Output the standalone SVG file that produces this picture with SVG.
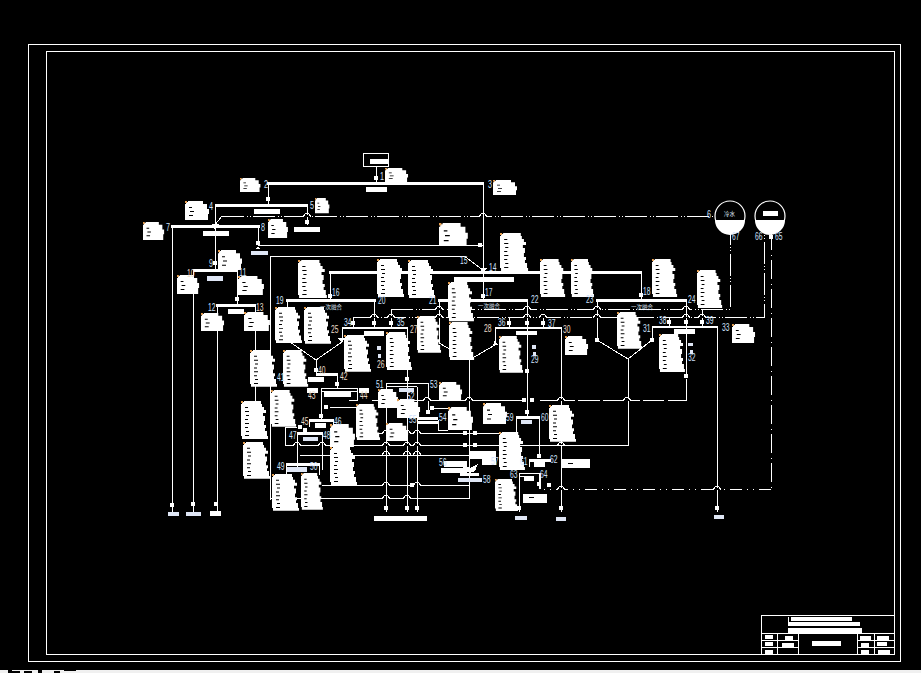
<svg xmlns="http://www.w3.org/2000/svg" width="921" height="673" viewBox="0 0 921 673">
<style>
text{font-family:"Liberation Sans","Noto Sans CJK SC",sans-serif;font-size:10px;fill:#cfe0fb}
text.o{fill:#eadcc8}
text.c{font-family:"Noto Sans CJK SC",sans-serif;font-size:5.5px;fill:#dfe6f5}
#connectors,#frame,#title-block{shape-rendering:crispEdges}
.f{fill:none;stroke:#fff;stroke-width:1}
.l{fill:none;stroke:#fff;stroke-width:1}
.b{fill:none;stroke:#fff;stroke-width:3}
.m{fill:none;stroke:#fff;stroke-width:2.600}
.d{fill:none;stroke:#fff;stroke-width:1;stroke-dasharray:22 3 1 2 1 2}
.e{fill:none;stroke:#fff;stroke-width:1;stroke-dasharray:12 5 1 5 1 5}
.v{fill:none;stroke:#fff;stroke-width:1;stroke-dasharray:18 5 1 4 1 0}
.w{fill:#fff}
.s{fill:#dfe6f5}
</style>
<defs>
<rect id="k" x="-2" y="-2" width="4" height="4" fill="#fff"/>
<g id="j"><path d="M-4 0H4" stroke="#000" stroke-width="2.500"/><path d="M-4 0H-3L-2 -2Q0 -3.500 2 -2L3 0H4" fill="none" stroke="#fff" stroke-width="1.200"/></g>
<g id="t"><path fill="#fff" d="M3 0H20V3H21V6H23V9H25V12H22V15H24V20H23V24H25V27H24V30H26V35H27V38H1V35H0V3H1V1H3Z"/><path fill="#000" d="M4 6h3v1h-3zM4 10h4v1h-4zM5 14h3v1h-3zM4 18h3v1h-3zM4 22h4v1h-4zM4 26h3v1h-3zM5 30h3v1h-3zM4 34h4v1h-4z"/><rect x="0" y="0" width="2" height="2" fill="#e8a050"/></g>
<g id="h"><path fill="#fff" d="M3 0H18V3H22V8H24V13H23V19H0V3H1V1H3Z"/><path fill="#000" d="M4 6h3v1h-3zM5 10h4v1h-4zM4 14h4v1h-4z"/><rect x="0" y="0" width="2" height="2" fill="#e8a050"/></g>
</defs>
<rect width="921" height="673" fill="#000"/>
<g id="frame">
<rect x="28.500" y="44.500" width="872" height="617" class="f"/>
<rect x="46.500" y="51.500" width="848" height="603" class="f"/>
<rect x="0" y="670" width="921" height="3" fill="#f0f0f0"/>
<path d="M8 670h4v3h-4zM12 671h8v2h-8zM24 671h8v2h-8zM38 670h4v3h-4zM54 671h6v2h-6zM64 670h12v1h-12z" fill="#000"/>
</g>
<g id="title-block">
<rect x="761.500" y="615.500" width="133" height="39" class="f"/>
<path class="f" d="M761 633.500H894M761 640.500H798M761 647.500H798M857 640.500H894M857 647.500H894M777.500 633V654M798.500 633V654M857.500 633V654M874.500 633V654"/>
<path class="w" d="M791 617h61v4h-61zM788 622h72v4h-72zM788 628h74v5h-74zM812 641h29v5h-29zM765 635h8v4h-8zM765 642h8v4h-8zM765 650h8v4h-8zM785 636h8v4h-8zM782 643h12v4h-12zM860 636h11v4h-11zM861 643h8v4h-8zM861 650h8v4h-8zM877 636h12v4h-12zM877 642h10v4h-10zM878 650h12v4h-12z"/>
<rect x="788" y="617" width="1" height="5" class="w"/>
</g>
<g id="connectors">
<rect x="363.500" y="153.500" width="25" height="13" fill="none" stroke="#fff" stroke-width="1.500"/>
<path class="l" d="M376 167V183"/>
<path class="b" d="M267 183.500H484"/>
<path class="l" d="M268 183V205M307 205V225"/>
<path class="b" d="M215 205.500H308"/>
<path class="d" d="M222 216H715"/>
<path class="l" d="M214 226L222 216"/>
<path class="b" d="M171 226.500H260"/>
<path class="l" d="M172 226V512M258 226V245H483M215 205V270M193 270V512"/>
<path class="b" d="M193 270.500H238"/>
<path class="l" d="M237 270V305M217 305V512M255 305V401"/>
<path class="b" d="M216 305.500H256"/>
<path class="l" d="M270 500V256H464L483 270M270 498.500H469V360"/>
<path class="b" d="M329 272.500H642"/>
<path class="l" d="M330 272V300M641 272V300"/>
<path class="b" d="M286 300.500H376M438 300.500H528M596 300.500H687"/>
<path class="l" d="M287 300V340L316 360L342 342V328M316 360V374M374 300V328M439 300V343L469 360L495 345V328M597 300V340L628 359L652 340V327M628 359V445H285"/>
<path class="m" d="M342 328H408M495 328H562M652 327H718"/>
<path class="d" d="M391 309H730V231"/>
<path class="d" d="M353 317.500H764V231"/>
<path class="l" d="M391 309V328M353 317V327M509 318V328M543 317V328M669 317V327M702 309V327M527 300V417M686 300V375M686 379V400H668M664 400H643M640 400H603M600 400H578M575 400H540M522 400H372"/>
<path class="v" d="M771 232V489"/>
<path class="e" d="M771 489H540"/>
<path class="l" d="M540 489V473M717 327V512M561 328V512M407 328V512"/>
<use href="#j" x="307" y="216"/><use href="#j" x="483" y="216"/>
<use href="#j" x="439" y="309"/><use href="#j" x="527" y="309"/><use href="#j" x="597" y="309"/><use href="#j" x="686" y="309"/>
<use href="#j" x="374" y="317"/><use href="#j" x="391" y="317"/><use href="#j" x="439" y="317"/><use href="#j" x="527" y="317"/><use href="#j" x="543" y="317"/><use href="#j" x="597" y="317"/><use href="#j" x="686" y="317"/><use href="#j" x="702" y="317"/>
<use href="#j" x="561" y="400"/><use href="#j" x="627" y="400"/><use href="#j" x="469" y="400"/><use href="#j" x="427" y="400"/>
<use href="#j" x="561" y="445"/><use href="#j" x="561" y="489"/><use href="#j" x="717" y="489"/>
<path class="l" d="M483 183V300M374 300V317M527 300V317M686 300V317"/>
<path class="b" d="M316 374H338M309 420H334M297 433H323M286 464H320M516 417.500H540M529 460H551"/>
<path class="f" d="M321 388H357M321 391H357M386 383.500H428M386 386.500H417M519 473.500H541M519 476H534"/>
<path class="l" d="M337 374V388M321 388V420M357 388V400H349M356 407H330M309 420V427M333 420V434M297 433V470M322 433V470M286 464V475M319 464V475M285 445V427H297M300 455H470M322 485.500H470M360 433.500H500M470 445H627"/>
<path class="l" d="M386 383V512M428 383V412M417 387V512M430 408H448M438 420V430H448M516 417V435M539 417V456M529 460V467M519 473V512M539 473V489"/>
<use href="#j" x="297" y="445"/><use href="#j" x="322" y="445"/><use href="#j" x="386" y="433"/><use href="#j" x="407" y="433"/><use href="#j" x="417" y="433"/><use href="#j" x="386" y="445"/><use href="#j" x="407" y="445"/><use href="#j" x="417" y="445"/><use href="#j" x="386" y="454"/><use href="#j" x="407" y="454"/><use href="#j" x="417" y="454"/><use href="#j" x="386" y="485"/><use href="#j" x="417" y="485"/><use href="#j" x="386" y="498"/><use href="#j" x="407" y="498"/><use href="#j" x="427" y="400"/>
<path class="l" d="M386 430V440M407 430V440M417 430V440M386 450V458M407 450V458M417 450V458M386 480V502M407 480V502M417 480V490M297 440V450M322 440V450"/>
<path class="w" d="M462 464L470 468L478 464L475 471L470 473L465 471Z"/>
<path class="w" d="M212 224H219L215 230ZM480 268L487 268L483 273ZM260 249H256L258 246ZM341 342L345 338L338 338ZM493 345H498L495 340Z"/>
<use href="#k" x="376" y="178"/><use href="#k" x="268" y="199"/><use href="#k" x="307" y="222"/><use href="#k" x="215" y="263"/><use href="#k" x="258" y="243"/><use href="#k" x="480" y="245"/><use href="#k" x="237" y="299"/><use href="#k" x="330" y="296"/><use href="#k" x="483" y="296"/><use href="#k" x="641" y="295"/><use href="#k" x="374" y="323"/><use href="#k" x="353" y="323"/><use href="#k" x="391" y="323"/><use href="#k" x="509" y="323"/><use href="#k" x="527" y="323"/><use href="#k" x="543" y="323"/><use href="#k" x="669" y="322"/><use href="#k" x="686" y="322"/><use href="#k" x="702" y="322"/><use href="#k" x="771" y="237"/><use href="#k" x="316" y="370"/><use href="#k" x="337" y="384"/><use href="#k" x="321" y="416"/><use href="#k" x="326" y="407"/><use href="#k" x="287" y="340"/><use href="#k" x="597" y="340"/><use href="#k" x="652" y="340"/><use href="#k" x="172" y="505"/><use href="#k" x="193" y="504"/><use href="#k" x="216" y="504"/><use href="#k" x="386" y="508"/><use href="#k" x="407" y="508"/><use href="#k" x="417" y="508"/><use href="#k" x="519" y="508"/><use href="#k" x="561" y="508"/><use href="#k" x="717" y="508"/><use href="#k" x="539" y="484"/><use href="#k" x="524" y="400"/><use href="#k" x="532" y="400"/><use href="#k" x="465" y="433"/><use href="#k" x="475" y="433"/><use href="#k" x="465" y="445"/><use href="#k" x="475" y="445"/><use href="#k" x="412" y="485"/><use href="#k" x="432" y="408"/><use href="#k" x="428" y="412"/><use href="#k" x="527" y="412"/><use href="#k" x="407" y="379"/><use href="#k" x="539" y="456"/><use href="#k" x="549" y="485"/><use href="#k" x="527" y="371"/><use href="#k" x="686" y="376"/><use href="#k" x="305" y="430"/><use href="#k" x="300" y="427"/>
</g>
<g id="n-source"><rect x="370" y="159" width="18" height="5" class="w"/></g>
<g id="n-tank-a"><circle cx="730" cy="216" r="15" fill="#000" stroke="#fff" stroke-width="1.200"/><path class="w" d="M715 220H745A15 15 0 0 1 715 220Z"/><text class="c" x="724" y="216">冷水</text></g>
<g id="n-tank-b"><circle cx="770" cy="216" r="15" fill="#000" stroke="#fff" stroke-width="1.200"/><path class="w" d="M755 220H785A15 15 0 0 1 755 220Z"/><rect x="763" y="211" width="15" height="5" class="w"/></g>
<g id="bars">
<path class="w" d="M366 187h21v5h-21zM254 209h26v5h-26zM294 227h26v5h-26zM203 231h26v5h-26zM228 309h16v5h-16zM454 277h60v5h-60zM364 331h20v5h-20zM516 331h21v4h-21zM674 329h21v5h-21zM308 377h16v5h-16zM307 388h11v5h-11zM359 388h10v5h-10zM324 392h27v5h-27zM315 423h11v5h-11zM210 511h11v5h-11zM374 516h53v5h-53zM417 417h21v3h-21zM417 421h21v3h-21zM444 461h23v6h-23zM441 468h26v5h-26zM460 473h19v3h-19zM534 461h11v6h-11zM524 476h10v5h-10zM470 451h26v8h-26zM482 459h14v6h-14z"/>
</g>
<g id="small-labels" class="s">
<path d="M251 251h17v4h-17zM207 276h16v5h-16zM168 512h11v4h-11zM186 512h15v4h-15zM515 516h12v4h-12zM556 517h10v4h-10zM714 515h10v4h-10zM303 437h15v4h-15zM287 467h20v5h-20zM399 388h15v4h-15zM377 346h4v4h-4zM378 354h3v4h-3zM532 345h4v4h-4zM533 352h3v4h-3zM688 343h5v3h-5zM690 350h3v4h-3zM521 420h11v4h-11zM458 478h24v4h-24z"/>
</g>
<text class="c" x="320" y="309">一次融合</text>
<text class="c" x="478" y="308">一次融合</text>
<text class="c" x="631" y="309">一次融合</text>
<g id="nodes">
<g id="b1"><use href="#h" transform="translate(240 178) scale(.85 .74)"/></g>
<g id="b2"><use href="#h" transform="translate(185 201) scale(1 1)"/></g>
<g id="b3"><use href="#h" transform="translate(315 198) scale(.6 .8)"/></g>
<g id="b4"><use href="#h" transform="translate(143 222) scale(.88 .95)"/></g>
<g id="b5"><use href="#h" transform="translate(268 219) scale(.83 1)"/></g>
<g id="b6"><use href="#h" transform="translate(218 250) scale(1 1.050)"/></g>
<g id="b7"><use href="#h" transform="translate(177 275) scale(.92 1)"/></g>
<g id="b8"><use href="#h" transform="translate(238 276) scale(1.080 1)"/></g>
<g id="b9"><use href="#h" transform="translate(201 313) scale(.96 .95)"/></g>
<g id="b10"><use href="#h" transform="translate(244 312) scale(1.080 1)"/></g>
<g id="b11"><use href="#h" transform="translate(385 168) scale(.96 .74)"/></g>
<g id="b12"><use href="#h" transform="translate(493 180) scale(1 .79)"/></g>
<g id="b13"><use href="#h" transform="translate(439 223) scale(1.200 1.210)"/></g>
<g id="b14"><use href="#t" transform="translate(298 260) scale(1.070 1)"/></g>
<g id="b15"><use href="#t" transform="translate(275 307) scale(1 .95)"/></g>
<g id="b16"><use href="#t" transform="translate(304 307) scale(1 .97)"/></g>
<g id="b17"><use href="#t" transform="translate(500 233) scale(1.040 1)"/></g>
<g id="b18"><use href="#t" transform="translate(377 259) scale(1 1)"/></g>
<g id="b19"><use href="#t" transform="translate(408 260) scale(1 1)"/></g>
<g id="b20"><use href="#t" transform="translate(540 259) scale(.93 1)"/></g>
<g id="b21"><use href="#t" transform="translate(448 282) scale(.96 1.030)"/></g>
<g id="b22"><use href="#t" transform="translate(449 322) scale(.93 1)"/></g>
<g id="b23"><use href="#t" transform="translate(417 316) scale(.89 .97)"/></g>
<g id="b24"><use href="#t" transform="translate(571 259) scale(.85 1)"/></g>
<g id="b25"><use href="#t" transform="translate(652 259) scale(.93 1)"/></g>
<g id="b26"><use href="#t" transform="translate(697 270) scale(.93 1)"/></g>
<g id="b27"><use href="#t" transform="translate(617 312) scale(.93 .97)"/></g>
<g id="b28"><use href="#t" transform="translate(659 334) scale(.96 1)"/></g>
<g id="b29"><use href="#h" transform="translate(732 324) scale(.96 1)"/></g>
<g id="b30"><use href="#h" transform="translate(565 336) scale(.96 1)"/></g>
<g id="b31"><use href="#t" transform="translate(250 350) scale(1 .97)"/></g>
<g id="b32"><use href="#t" transform="translate(283 350) scale(.93 .97)"/></g>
<g id="b33"><use href="#t" transform="translate(271 390) scale(.93 .97)"/></g>
<g id="b34"><use href="#t" transform="translate(241 401) scale(1 1)"/></g>
<g id="b35"><use href="#t" transform="translate(243 442) scale(1 .97)"/></g>
<g id="b36"><use href="#t" transform="translate(272 474) scale(1 .97)"/></g>
<g id="b37"><use href="#t" transform="translate(301 473) scale(.81 .97)"/></g>
<g id="b38"><use href="#h" transform="translate(330 424) scale(1.040 1.210)"/></g>
<g id="b39"><use href="#t" transform="translate(330 447) scale(1 1)"/></g>
<g id="b40"><use href="#t" transform="translate(356 404) scale(.89 .95)"/></g>
<g id="b41"><use href="#t" transform="translate(344 335) scale(1 .97)"/></g>
<g id="b42"><use href="#t" transform="translate(386 332) scale(.96 1)"/></g>
<g id="b43"><use href="#t" transform="translate(499 336) scale(.89 .97)"/></g>
<g id="b44"><use href="#h" transform="translate(439 382) scale(.96 .95)"/></g>
<g id="b45"><use href="#h" transform="translate(378 389) scale(.83 1)"/></g>
<g id="b46"><use href="#h" transform="translate(397 399) scale(.96 1)"/></g>
<g id="b47"><use href="#h" transform="translate(448 407) scale(1.040 1.210)"/></g>
<g id="b48"><use href="#h" transform="translate(386 423) scale(.92 .95)"/></g>
<g id="b49"><use href="#h" transform="translate(483 403) scale(1 1.100)"/></g>
<g id="b50"><use href="#t" transform="translate(499 432) scale(.96 1)"/></g>
<g id="b51"><use href="#t" transform="translate(549 405) scale(1 .97)"/></g>
<g id="b52"><use href="#t" transform="translate(495 479) scale(.85 .84)"/></g>
<g id="b53"><rect x="523" y="494" width="24" height="9" class="w"/><rect x="529" y="497" width="5" height="1" fill="#000"/></g>
<g id="b54"><rect x="562" y="459" width="28" height="9" class="w"/><rect x="568" y="463" width="5" height="1" fill="#000"/></g>
</g>
<g id="numbers" lengthAdjust="spacingAndGlyphs">
<text textLength="4" lengthAdjust="spacingAndGlyphs" x="380" y="180">1</text><text textLength="4" lengthAdjust="spacingAndGlyphs" x="264" y="188">2</text><text textLength="4" lengthAdjust="spacingAndGlyphs" x="488" y="188">3</text><text textLength="4" lengthAdjust="spacingAndGlyphs" x="209" y="210">4</text><text textLength="4" lengthAdjust="spacingAndGlyphs" x="310" y="209">5</text><text textLength="4" lengthAdjust="spacingAndGlyphs" x="707" y="218">6</text><text textLength="4" lengthAdjust="spacingAndGlyphs" x="166" y="231">7</text><text textLength="4" lengthAdjust="spacingAndGlyphs" x="261" y="231">8</text><text textLength="4" lengthAdjust="spacingAndGlyphs" x="209" y="267">9</text>
<text textLength="7.500" lengthAdjust="spacingAndGlyphs" class="o" x="187" y="277">10</text><text textLength="7.500" lengthAdjust="spacingAndGlyphs" x="239" y="276">11</text><text textLength="7.500" lengthAdjust="spacingAndGlyphs" x="208" y="311">12</text><text textLength="7.500" lengthAdjust="spacingAndGlyphs" class="o" x="256" y="311">13</text><text textLength="7.500" lengthAdjust="spacingAndGlyphs" x="489" y="271">14</text><text textLength="7.500" lengthAdjust="spacingAndGlyphs" x="460" y="264">15</text><text textLength="7.500" lengthAdjust="spacingAndGlyphs" x="332" y="296">16</text><text textLength="7.500" lengthAdjust="spacingAndGlyphs" x="485" y="296">17</text><text textLength="7.500" lengthAdjust="spacingAndGlyphs" x="643" y="295">18</text><text textLength="7.500" lengthAdjust="spacingAndGlyphs" x="276" y="304">19</text>
<text textLength="7.500" lengthAdjust="spacingAndGlyphs" x="378" y="304">20</text><text textLength="7.500" lengthAdjust="spacingAndGlyphs" x="429" y="304">21</text><text textLength="7.500" lengthAdjust="spacingAndGlyphs" x="531" y="303">22</text><text textLength="7.500" lengthAdjust="spacingAndGlyphs" x="586" y="303">23</text><text textLength="7.500" lengthAdjust="spacingAndGlyphs" x="688" y="303">24</text><text textLength="7.500" lengthAdjust="spacingAndGlyphs" class="o" x="331" y="333">25</text><text textLength="7.500" lengthAdjust="spacingAndGlyphs" class="o" x="377" y="368">26</text><text textLength="7.500" lengthAdjust="spacingAndGlyphs" class="o" x="410" y="333">27</text><text textLength="7.500" lengthAdjust="spacingAndGlyphs" class="o" x="484" y="332">28</text><text textLength="7.500" lengthAdjust="spacingAndGlyphs" x="531" y="363">29</text>
<text textLength="7.500" lengthAdjust="spacingAndGlyphs" class="o" x="563" y="333">30</text><text textLength="7.500" lengthAdjust="spacingAndGlyphs" x="643" y="332">31</text><text textLength="7.500" lengthAdjust="spacingAndGlyphs" x="688" y="361">32</text><text textLength="7.500" lengthAdjust="spacingAndGlyphs" x="722" y="331">33</text><text textLength="7.500" lengthAdjust="spacingAndGlyphs" x="344" y="326">34</text><text textLength="7.500" lengthAdjust="spacingAndGlyphs" x="397" y="326">35</text><text textLength="7.500" lengthAdjust="spacingAndGlyphs" x="498" y="326">36</text><text textLength="7.500" lengthAdjust="spacingAndGlyphs" x="548" y="327">37</text><text textLength="7.500" lengthAdjust="spacingAndGlyphs" x="659" y="324">38</text><text textLength="7.500" lengthAdjust="spacingAndGlyphs" x="706" y="324">39</text>
<text textLength="7.500" lengthAdjust="spacingAndGlyphs" class="o" x="318" y="374">40</text><text textLength="7.500" lengthAdjust="spacingAndGlyphs" x="277" y="381">41</text><text textLength="7.500" lengthAdjust="spacingAndGlyphs" class="o" x="340" y="380">42</text><text textLength="7.500" lengthAdjust="spacingAndGlyphs" class="o" x="308" y="399">43</text><text textLength="7.500" lengthAdjust="spacingAndGlyphs" class="o" x="360" y="399">44</text><text textLength="7.500" lengthAdjust="spacingAndGlyphs" class="o" x="301" y="425">45</text><text textLength="7.500" lengthAdjust="spacingAndGlyphs" x="334" y="425">46</text><text textLength="7.500" lengthAdjust="spacingAndGlyphs" x="289" y="439">47</text><text textLength="7.500" lengthAdjust="spacingAndGlyphs" x="323" y="439">48</text><text textLength="7.500" lengthAdjust="spacingAndGlyphs" x="277" y="470">49</text>
<text textLength="7.500" lengthAdjust="spacingAndGlyphs" x="310" y="470">50</text><text textLength="7.500" lengthAdjust="spacingAndGlyphs" x="376" y="388">51</text><text textLength="7.500" lengthAdjust="spacingAndGlyphs" x="407" y="400">52</text><text textLength="7.500" lengthAdjust="spacingAndGlyphs" x="430" y="388">53</text><text textLength="7.500" lengthAdjust="spacingAndGlyphs" x="439" y="421">54</text><text textLength="7.500" lengthAdjust="spacingAndGlyphs" x="409" y="423">55</text><text textLength="7.500" lengthAdjust="spacingAndGlyphs" x="439" y="466">56</text><text textLength="7.500" lengthAdjust="spacingAndGlyphs" x="491" y="465">57</text><text textLength="7.500" lengthAdjust="spacingAndGlyphs" x="483" y="483">58</text><text textLength="7.500" lengthAdjust="spacingAndGlyphs" x="506" y="421">59</text>
<text textLength="7.500" lengthAdjust="spacingAndGlyphs" x="541" y="421">60</text><text textLength="7.500" lengthAdjust="spacingAndGlyphs" x="520" y="465">61</text><text textLength="7.500" lengthAdjust="spacingAndGlyphs" x="550" y="463">62</text><text textLength="7.500" lengthAdjust="spacingAndGlyphs" x="510" y="478">63</text><text textLength="7.500" lengthAdjust="spacingAndGlyphs" x="540" y="478">64</text><text textLength="7.500" lengthAdjust="spacingAndGlyphs" x="775" y="240">65</text><text textLength="7.500" lengthAdjust="spacingAndGlyphs" x="755" y="240">66</text><text textLength="7.500" lengthAdjust="spacingAndGlyphs" x="732" y="240">67</text>
</g>
</svg>
